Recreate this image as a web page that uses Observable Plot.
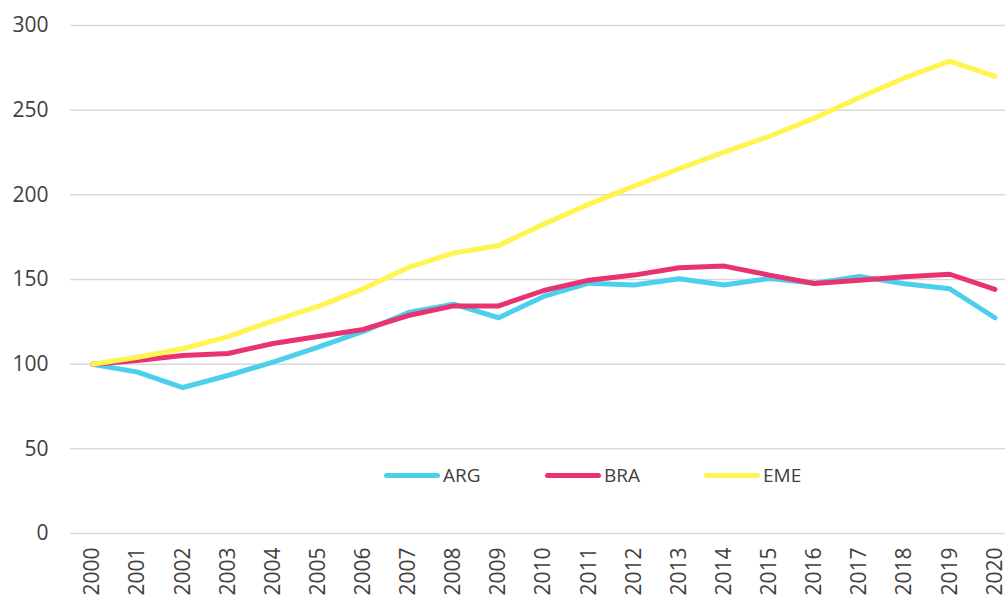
<!DOCTYPE html>
<html>
<head>
<meta charset="utf-8">
<script src="https://cdn.jsdelivr.net/npm/d3@7"></script>
<script src="https://cdn.jsdelivr.net/npm/@observablehq/plot@0.6"></script>
<style>
  html, body { margin: 0; padding: 0; background: #fff; }
  #wrap { position: relative; width: 1005px; height: 596px; overflow: hidden; font-family: "Open Sans", "Noto Sans", sans-serif; }
  #legend { position: absolute; top: 462px; left: 0; width: 1005px; height: 28px; }
  .item { position: absolute; display: flex; align-items: center; font-size: 19px; color: #404040; }
  .sw { width: 56px; height: 5px; border-radius: 3px; margin-right: 3px; }
</style>
</head>
<body>
<div id="wrap"><div id="chart"></div><div id="legend"></div></div>
<script>
const years = [2000,2001,2002,2003,2004,2005,2006,2007,2008,2009,2010,2011,2012,2013,2014,2015,2016,2017,2018,2019,2020];
const seriesNames = ["ARG", "BRA", "EME"];
const seriesColors = ["#4BCFEC", "#E83370", "#FFF450"];
const ARG = [100, 95.3, 86.2, 93.3, 101.2, 110, 119.3, 130.5, 135.4, 127.4, 140, 147.8, 146.8, 150.4, 146.8, 150.6, 147.8, 151.8, 147.5, 144.5, 127.4];
const BRA = [100, 102.2, 105.1, 106.3, 112.2, 116.3, 120.5, 128.7, 134.4, 134.4, 143.5, 149.6, 152.6, 156.9, 157.9, 152.6, 147.6, 149.6, 151.6, 153.1, 144.1];
const EME = [100, 104.1, 109.1, 116.3, 125.6, 134.1, 144.5, 157.1, 165.6, 170.1, 182.7, 194.5, 205.1, 215.4, 225.2, 234.6, 245.3, 257.5, 269.1, 279, 269.9];
const yTicks = [0, 50, 100, 150, 200, 250, 300];

const valuesBySeries = {ARG, BRA, EME};
const rows = seriesNames.flatMap(s => years.map((yr, i) => ({series: s, year: yr, value: valuesBySeries[s][i]})));

const chart = Plot.plot({
  width: 1005,
  height: 596,
  marginLeft: 70,
  marginRight: 0,
  marginTop: 25,
  marginBottom: 63,
  style: {fontFamily: "'Open Sans', 'Noto Sans', sans-serif", fontSize: "21px", color: "#404040", background: "#fff"},
  x: {domain: [1999.5, 2020.5], range: [69.5, 1017], label: null},
  y: {domain: [0, 300], label: null},
  color: {domain: seriesNames, range: seriesColors},
  marks: [
    Plot.gridY(yTicks, {stroke: "#d9d9d9", strokeOpacity: 1, strokeWidth: 1.5}),
    Plot.axisY(yTicks, {tickSize: 0, tickPadding: 22, tickFormat: d => String(d), fontSize: 21, label: null}),
    Plot.axisX(years, {tickSize: 0, tickPadding: 14, tickRotate: -90, tickFormat: d => String(d), fontSize: 21, label: null}),
    Plot.line(rows, {x: "year", y: "value", z: "series", stroke: "series", strokeWidth: 5, strokeLinejoin: "round", strokeLinecap: "round"})
  ]
});
document.getElementById("chart").appendChild(chart);

const legendPos = [384, 545, 704];
const legend = document.getElementById("legend");
seriesNames.forEach((s, i) => {
  const item = document.createElement("div");
  item.className = "item";
  item.style.left = legendPos[i] + "px";
  item.style.top = "0px";
  const sw = document.createElement("div");
  sw.className = "sw";
  sw.style.background = seriesColors[i];
  const lab = document.createElement("span");
  lab.textContent = s;
  item.appendChild(sw);
  item.appendChild(lab);
  legend.appendChild(item);
});
</script>
</body>
</html>
